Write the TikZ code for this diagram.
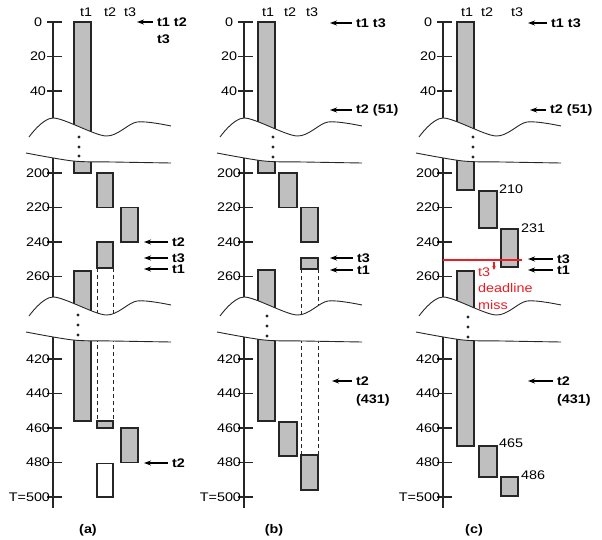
\documentclass[tikz,border=0pt]{standalone}
\usepackage{fontspec}
\setmainfont{Liberation Sans}[FakeStretch=1.15]
\usetikzlibrary{arrows.meta}
\definecolor{missred}{RGB}{236,28,36}
\newcommand{\lblfont}{\fontsize{12.5}{16}\selectfont}
\tikzset{
  job/.style={draw=black!85, fill=gray!50, line width=1.1pt},
  freejob/.style={draw=black!85, fill=white, line width=1.1pt},
  slack/.style={black!85, line width=0.9pt, dash pattern=on 4pt off 3pt},
  timeaxis/.style={black!85, line width=1.1pt},
  cutline/.style={black!85, line width=0.9pt},
  rel/.style={font=\lblfont\bfseries, anchor=west, inner sep=0pt},
  relarrow/.style={<-, line width=1.4pt, shorten >=4pt},
  boxlbl/.style={anchor=west, inner sep=0pt},
  missline/.style={draw=missred, line width=1.4pt},
}
% broken time axis: #1 axis x, #2 top of the wave
\newcommand{\timecut}[2]{%
  \fill[white] plot[smooth] coordinates {(#1-24,#2+19) (#1,#2) (#1+53,#2+18) (#1+84,#2+4) (#1+118,#2+8)}
    -- plot[smooth] coordinates {(#1+118,#2+45) (#1+60,#2+44) (#1+20,#2+43) (#1-27,#2+35)} -- cycle;
  \draw[cutline] plot[smooth] coordinates {(#1-24,#2+19) (#1,#2) (#1+53,#2+18) (#1+84,#2+4) (#1+118,#2+8)};
  \draw[cutline] plot[smooth] coordinates {(#1-27,#2+35) (#1+20,#2+43) (#1+60,#2+44) (#1+118,#2+45)};
}
\begin{document}
\begin{tikzpicture}[x=1pt, y=-1pt, >={Stealth[length=7pt,width=5pt]}, font=\lblfont]
  \useasboundingbox (0,0) rectangle (602,540);

  % (a)
  \filldraw[job] (74,22) rectangle (91,140);
  \filldraw[job] (74,150) rectangle (91,173);
  \filldraw[job] (97,173) rectangle (113,207.5);
  \filldraw[job] (121,207.5) rectangle (138,242);
  \filldraw[job] (97,242) rectangle (113,268);
  \draw[slack] (97,268) -- (97,421);
  \draw[slack] (113,268) -- (113,421);
  \filldraw[job] (74,271) rectangle (91,421);
  \filldraw[job] (97,421) rectangle (113,428);
  \filldraw[job] (121,428) rectangle (138,462.5);
  \filldraw[freejob] (97,463.5) rectangle (113,497);

  % (b)
  \filldraw[job] (258,22) rectangle (275,140);
  \filldraw[job] (258,150) rectangle (275,173);
  \filldraw[job] (279,173) rectangle (297,207.5);
  \filldraw[job] (301,207.5) rectangle (318,242);
  \filldraw[job] (301,258) rectangle (318,269);
  \draw[slack] (301,269) -- (301,455);
  \draw[slack] (318,269) -- (318,455);
  \filldraw[job] (258,270) rectangle (275,421);
  \filldraw[job] (279,422) rectangle (297,456);
  \filldraw[job] (301,455) rectangle (318,490);

  % (c)
  \filldraw[job] (457,22) rectangle (474,140);
  \filldraw[job] (457,150) rectangle (474,190);
  \filldraw[job] (479,191) rectangle (497,228);
  \filldraw[job] (501,229) rectangle (518,267);
  \filldraw[job] (457,271) rectangle (474,446);
  \filldraw[job] (479,446) rectangle (497,477);
  \filldraw[job] (501,477) rectangle (518,496);

  % axes, ticks and breaks
  \foreach \p/\ax in {a/53, b/244, c/443} {
    \draw[timeaxis] (\ax,22) -- (\ax,508);
    \foreach \t/\y [count=\i] in {0/22, 20/56.5, 40/91, 200/173, 220/207.5, 240/242, 260/276.5,
        420/359, 440/393.5, 460/428, 480/462.5, \llap{T=}500/497} {
      \draw[timeaxis] (\ax-6,\y) -- (\ax+9,\y);
      \node[inner sep=0pt] (\p-tick\i) at (\ax-15,\y) {\t};
    }
    \timecut{\ax}{118}
    \timecut{\ax}{297}
  }
  \foreach \x/\y in {79/137, 79/147, 79/156, 78/315, 78/325, 78/335,
      273/137, 273/147, 273/157, 267/316, 267/326, 267/336,
      473/137, 473/147, 473/157, 468/317, 468/327, 468/337}
    \fill[black!85] (\x,\y) circle (1.7);

  % task headers
  \foreach \p/\xa/\xb/\xc in {a/86/110/130, b/268/290/312, c/467/487/517} {
    \node (\p-h1) at (\xa,12) {t1};
    \node (\p-h2) at (\xb,12) {t2};
    \node (\p-h3) at (\xc,12) {t3};
  }

  % releases (a)
  \node[rel] (a-r0) at (157,22) {t1 t2};
  \node[rel] (a-r0b) at (157,39) {t3};
  \coordinate (a-r0-tip) at (137,22);
  \draw[relarrow] (a-r0-tip) -- (a-r0-tip -| a-r0.west);
  \node[rel] (a-r2) at (172,242) {t2};
  \coordinate (a-r2-tip) at (144,242);
  \draw[relarrow] (a-r2-tip) -- (a-r2-tip -| a-r2.west);
  \node[rel] (a-r3) at (172,258) {t3};
  \coordinate (a-r3-tip) at (144,258);
  \draw[relarrow] (a-r3-tip) -- (a-r3-tip -| a-r3.west);
  \node[rel] (a-r1) at (172,269) {t1};
  \coordinate (a-r1-tip) at (144,269);
  \draw[relarrow] (a-r1-tip) -- (a-r1-tip -| a-r1.west);
  \node[rel] (a-r4) at (172,463) {t2};
  \coordinate (a-r4-tip) at (144,463);
  \draw[relarrow] (a-r4-tip) -- (a-r4-tip -| a-r4.west);

  % releases (b)
  \node[rel] (b-r0) at (356,23) {t1 t3};
  \coordinate (b-r0-tip) at (330,23);
  \draw[relarrow] (b-r0-tip) -- (b-r0-tip -| b-r0.west);
  \node[rel] (b-r2) at (356,110) {t2 (51)};
  \coordinate (b-r2-tip) at (330,110);
  \draw[relarrow] (b-r2-tip) -- (b-r2-tip -| b-r2.west);
  \node[rel] (b-r3) at (357,258) {t3};
  \coordinate (b-r3-tip) at (330,258);
  \draw[relarrow] (b-r3-tip) -- (b-r3-tip -| b-r3.west);
  \node[rel] (b-r1) at (357,270) {t1};
  \coordinate (b-r1-tip) at (330,270);
  \draw[relarrow] (b-r1-tip) -- (b-r1-tip -| b-r1.west);
  \node[rel] (b-r4) at (356,381) {t2};
  \node[rel] (b-r4b) at (356,400) {(431)};
  \coordinate (b-r4-tip) at (332,381);
  \draw[relarrow] (b-r4-tip) -- (b-r4-tip -| b-r4.west);

  % releases (c)
  \node[rel] (c-r0) at (551,23) {t1 t3};
  \coordinate (c-r0-tip) at (528,23);
  \draw[relarrow] (c-r0-tip) -- (c-r0-tip -| c-r0.west);
  \node[rel] (c-r2) at (550,110) {t2 (51)};
  \coordinate (c-r2-tip) at (530,110);
  \draw[relarrow] (c-r2-tip) -- (c-r2-tip -| c-r2.west);
  \node[rel] (c-r3) at (557,259) {t3};
  \coordinate (c-r3-tip) at (528,259);
  \draw[relarrow] (c-r3-tip) -- (c-r3-tip -| c-r3.west);
  \node[rel] (c-r1) at (557,270) {t1};
  \coordinate (c-r1-tip) at (528,270);
  \draw[relarrow] (c-r1-tip) -- (c-r1-tip -| c-r1.west);
  \node[rel] (c-r4) at (557,381) {t2};
  \node[rel] (c-r4b) at (557,400) {(431)};
  \coordinate (c-r4-tip) at (528,381);
  \draw[relarrow] (c-r4-tip) -- (c-r4-tip -| c-r4.west);

  % finishing times (c)
  \node[boxlbl] (c-f2) at (499,189) {210};
  \node[boxlbl] (c-f3) at (521,228) {231};
  \node[boxlbl] (c-f4) at (499,443) {465};
  \node[boxlbl] (c-f5) at (521,475) {486};

  % deadline miss (c)
  \node[text=missred, align=left, anchor=north west, inner sep=0pt,
    font=\fontsize{12.5}{16.5}\selectfont] (c-miss) at (478,267.5) {t3\\deadline\\miss};
  \coordinate (missL) at (443,260);
  \coordinate (missR) at (522,260);
  \draw[missline] (missL) -- (missR);
  \coordinate (missA) at (494,261.5);
  \coordinate (missB) at (494,270);
  \draw[missline, -{Stealth[length=4pt,width=3.5pt]}] (missA) -- (missB);

  % captions
  \node[font=\lblfont\bfseries] (cap-a) at (88,530) {(a)};
  \node[font=\lblfont\bfseries] (cap-b) at (274,530) {(b)};
  \node[font=\lblfont\bfseries] (cap-c) at (474,530) {(c)};
\end{tikzpicture}
\end{document}
